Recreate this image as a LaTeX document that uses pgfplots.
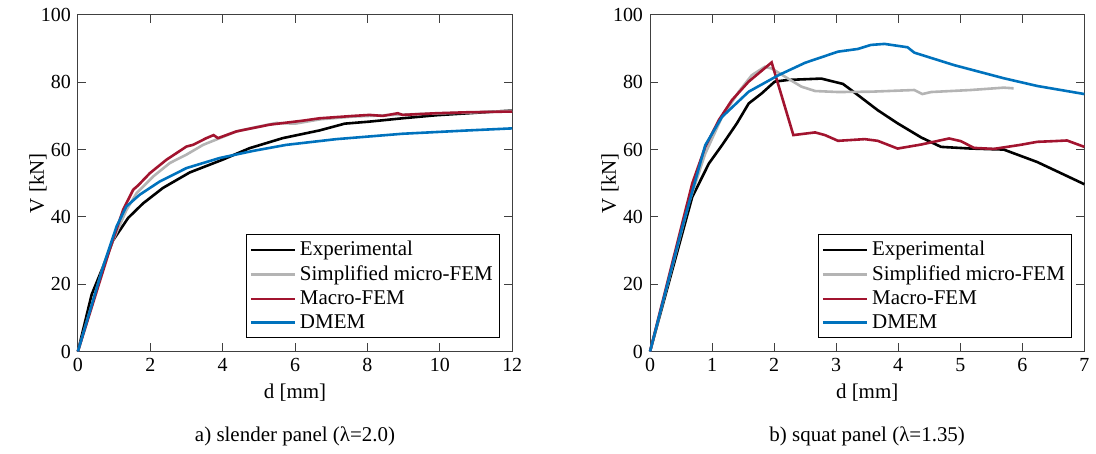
\documentclass[border=0pt]{standalone}
\usepackage{fontspec}
\setmainfont{Liberation Serif}
\usepackage{pgfplots}
\pgfplotsset{compat=1.18}
\definecolor{cexp}{RGB}{0,0,0}
\definecolor{cmic}{RGB}{180,180,180}
\definecolor{cmac}{RGB}{162,20,47}
\definecolor{cdm}{RGB}{0,114,189}
\pgfplotsset{
  panel/.style={
    scale only axis, width=217.5pt, height=168.5pt, clip=false,
    ymin=0, ymax=100, ytick={0,20,...,100},
    tick align=inside, tick pos=both,
    major tick length=4pt,
    axis line style={line width=0.5pt, black!75},
    every tick/.style={black!75, line width=0.5pt},
    tick label style={font=\fontsize{10}{12}\selectfont},
    /pgf/number format/assume math mode=true,
    label style={font=\fontsize{10.5}{12}\selectfont},
    xlabel={d [mm]}, ylabel={V [kN]},
    xlabel style={at={(axis description cs:0.5,-0.122)}, anchor=center},
    ylabel style={at={(axis description cs:-0.092,0.5)}, anchor=center},
    legend cell align=left,
    legend style={at={(axis description cs:1,0)}, anchor=south east,
      xshift=-6pt, yshift=6.5pt, draw=black, line width=0.5pt,
      font=\fontsize{10.5}{12}\selectfont, inner sep=1.5pt, row sep=-0.5pt},
    legend image code/.code={\draw[#1] (0pt,0pt) -- (22pt,0pt);},
    every axis plot/.append style={line width=1.3pt, mark=none},
  }
}
\begin{document}
\begin{tikzpicture}
\path (-39pt,-51pt) rectangle (509pt,176pt);
\begin{axis}[panel, at={(0pt,0pt)}, xmin=0, xmax=12, xtick={0,2,...,12}]
\addplot[cexp] coordinates {(0,0)(0.38,16.9)(0.7,25.3)(0.97,33)(1.39,39.7)(1.8,44)(2.35,48.6)(3.09,53.2)(4.0,57)(4.74,60.4)(5.66,63.4)(6.68,65.7)(7.37,67.7)(8.05,68.3)(8.97,69.3)(9.9,70.2)(10.8,70.8)(12,71.6)};
\addplot[cmic] coordinates {(0,0)(0.7,25.3)(0.97,33)(1.34,42)(1.62,47)(2.08,52)(2.54,56)(3.0,58.5)(3.46,61.4)(3.92,63.4)(4.38,65.4)(4.93,66.7)(5.48,67.9)(6.0,67.7)(6.7,69.0)(7.6,69.8)(8.5,70.2)(9.5,70.6)(10.8,71.0)(12,71.5)};
\addplot[cmac] coordinates {(0,0)(0.88,30.3)(1.25,42.1)(1.53,48.1)(1.66,49.3)(1.99,53)(2.45,57)(3.0,60.9)(3.18,61.4)(3.55,63.4)(3.75,64.3)(3.87,63.4)(4.38,65.4)(5.3,67.4)(6.22,68.6)(6.68,69.3)(7.6,70.0)(8.06,70.3)(8.42,70.0)(8.84,70.8)(8.97,70.3)(9.9,70.8)(10.8,71.1)(12,71.3)};
\addplot[cdm] coordinates {(0,0)(0.7,25.3)(1.07,37.2)(1.34,43.1)(1.71,46.6)(2.26,50.5)(3.0,54.5)(3.92,57.5)(4.84,59.6)(5.76,61.4)(7.14,63.1)(8.97,64.7)(10.8,65.7)(12,66.3)};
\legend{Experimental,Simplified micro-FEM,Macro-FEM,DMEM}
\node[font=\fontsize{10.5}{12}\selectfont] at (axis description cs:0.5,-0.252) {a) slender panel (λ=2.0)};
\end{axis}
\begin{axis}[panel, at={(286.5pt,0pt)}, xmin=0, xmax=7, xtick={0,1,...,7}]
\addplot[cexp] coordinates {(0,0)(0.68,45.9)(0.95,55.9)(1.16,61.3)(1.4,67.8)(1.59,73.7)(1.8,76.7)(2.01,80.2)(2.23,80.7)(2.76,81.1)(3.11,79.5)(3.35,76.2)(3.67,71.7)(3.99,67.8)(4.37,63.6)(4.69,60.8)(5.17,60.3)(5.7,60.0)(6.24,56.3)(7.0,49.7)};
\addplot[cmic] coordinates {(0,0)(0.63,44.4)(0.89,58.8)(1.16,69.7)(1.43,77.2)(1.64,82.1)(1.85,84.6)(1.96,84.1)(2.18,81.6)(2.44,78.7)(2.66,77.4)(3.03,77.1)(3.56,77.2)(4.26,77.7)(4.39,76.5)(4.53,77.1)(5.17,77.7)(5.7,78.4)(5.86,78.2)};
\addplot[cmac] coordinates {(0,0)(0.68,49.9)(0.89,60.8)(1.11,68.8)(1.32,74.7)(1.59,80.2)(1.96,85.9)(2.31,64.3)(2.44,64.6)(2.66,65.1)(2.82,64.3)(3.03,62.6)(3.46,63.1)(3.67,62.6)(3.99,60.3)(4.37,61.5)(4.82,63.3)(5.01,62.5)(5.22,60.5)(5.54,60.2)(5.97,61.4)(6.24,62.3)(6.5,62.5)(6.72,62.7)(7.0,60.8)};
\addplot[cdm] coordinates {(0,0)(0.52,37)(0.89,61.3)(1.16,69.7)(1.59,77.2)(2.07,82.1)(2.5,85.8)(3.03,89.1)(3.35,89.9)(3.56,91.1)(3.78,91.4)(4.15,90.4)(4.26,88.8)(4.9,85.1)(5.7,81.2)(6.24,78.9)(7.0,76.5)};
\legend{Experimental,Simplified micro-FEM,Macro-FEM,DMEM}
\node[font=\fontsize{10.5}{12}\selectfont] at (axis description cs:0.5,-0.252) {b) squat panel (λ=1.35)};
\end{axis}
\end{tikzpicture}
\end{document}
